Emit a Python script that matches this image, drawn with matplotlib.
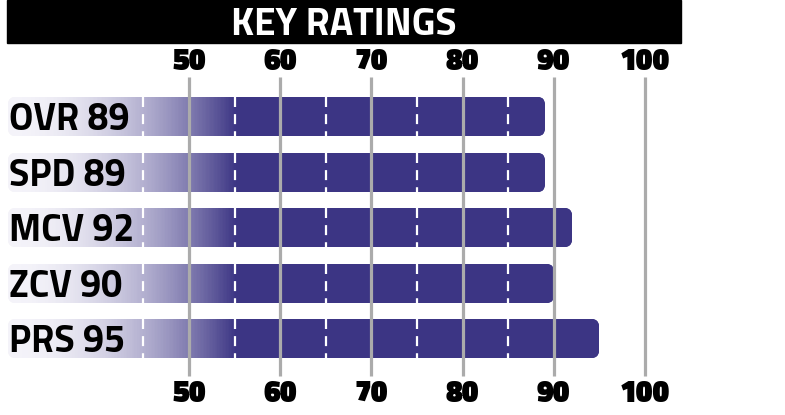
import numpy as np
import matplotlib
matplotlib.use("Agg")
import matplotlib.pyplot as plt
from matplotlib.patches import FancyBboxPatch, Rectangle
from matplotlib.colors import LinearSegmentedColormap

# data
categories = ["OVR", "SPD", "MCV", "ZCV", "PRS"]
ratings = [89, 89, 92, 90, 95]
tick_values = [50, 60, 70, 80, 90, 100]
dash_values = [45, 55, 65, 75, 85]
title = "KEY RATINGS"

PURPLE = "#3c3584"
GRID = "#ababab"
FONT = ["Titillium Web", "DejaVu Sans"]

# pixel mapping of the reference (x: 9.12 px per rating point, y: 55.6 px per row)
PX_X = 9.12
PX_Y = 55.6
X0 = 50 - 189 / PX_X
X1 = 50 + (785 - 189) / PX_X
Y_TOP = -116.5 / PX_Y
Y_BOT = (415 - 116.5) / PX_Y
BAR_START = 50 + (8 - 189) / PX_X
BAR_H = 39 / PX_Y
FADE_END = 55.3

fig = plt.figure(figsize=(7.85, 4.15), dpi=100)
ax = fig.add_axes([0, 0, 1, 1])
ax.axis("off")

# title bar
fig.patches.append(Rectangle((7 / 785, 1 - 43 / 415), 674 / 785, 43 / 415,
                             transform=fig.transFigure, color="black", zorder=0))
fig.text(344 / 785, 1 - 35 / 415, title, color="white", ha="center", va="baseline",
         fontsize=28, fontweight="bold", family=FONT)

# each bar: one mesh fading from light to purple, clipped to a rounded box
fade = LinearSegmentedColormap.from_list("fade", ["#f4f3f9", PURPLE])
r = 8 / PX_X
aspect = (8 / PX_Y) / r

for i, (cat, val) in enumerate(zip(categories, ratings)):
    box = FancyBboxPatch((BAR_START, i - BAR_H / 2), val - BAR_START, BAR_H,
                         boxstyle=f"round,pad=0,rounding_size={r}",
                         mutation_aspect=aspect, transform=ax.transData)
    xe = np.linspace(BAR_START, val, 400)
    xc = 0.5 * (xe[:-1] + xe[1:])
    shade = np.clip((xc - BAR_START) / (FADE_END - BAR_START), 0, 1) ** 2.0
    ye = np.array([i - BAR_H / 2, i + BAR_H / 2])
    mesh = ax.pcolormesh(xe, ye, shade[None, :], cmap=fade, vmin=0, vmax=1,
                         shading="flat", edgecolors="face", linewidth=0.3, zorder=2)
    mesh.set_clip_path(box)
    for d in dash_values:
        if d < val:
            ax.vlines(d, i - BAR_H / 2, i + BAR_H / 2, colors="white", lw=1.6,
                      linestyles=(0, (4.5, 3.2)), zorder=3)
    ax.text(50 + (9 - 189) / PX_X, i + 13.5 / PX_Y, f"{cat} {val}",
            ha="left", va="baseline", fontsize=27, fontweight="bold",
            family=FONT, color="black", zorder=5)

# grid lines on top of the bars
ax.vlines(tick_values, (77 - 116.5) / PX_Y, (376 - 116.5) / PX_Y,
          colors=GRID, lw=2.3, zorder=4)

for v in tick_values:
    for yb in ((70.5 - 116.5) / PX_Y, (401.5 - 116.5) / PX_Y):
        ax.text(v, yb, str(v), ha="center", va="baseline",
                fontsize=22, fontweight="black", family=FONT, color="black")

ax.set_xlim(X0, X1)
ax.set_ylim(Y_BOT, Y_TOP)

fig.savefig("out.png", dpi=100)
